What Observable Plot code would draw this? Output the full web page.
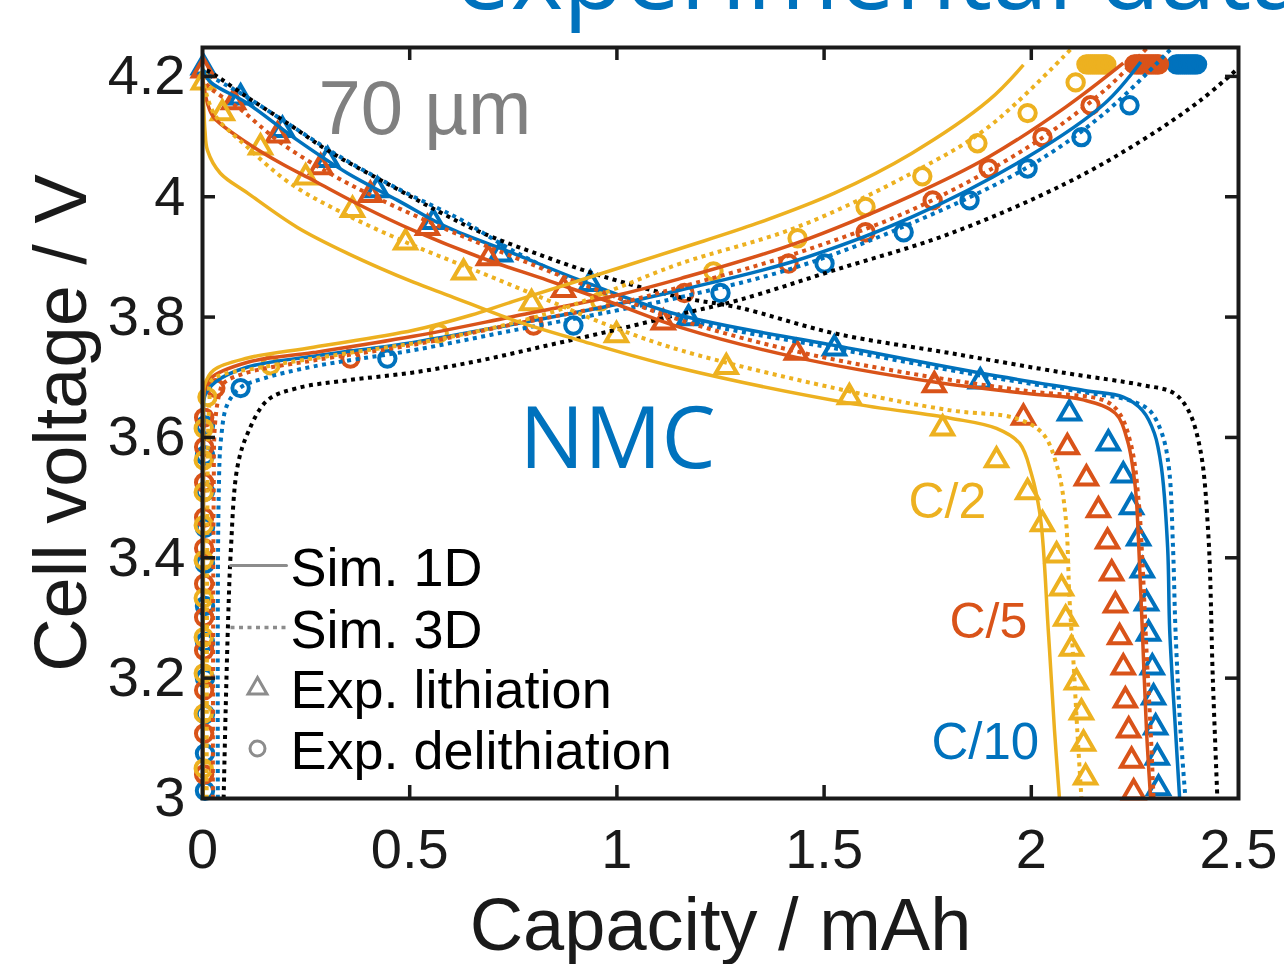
<!DOCTYPE html>
<html><head><meta charset="utf-8">
<script src="https://cdn.jsdelivr.net/npm/d3@7"></script>
<script src="https://cdn.jsdelivr.net/npm/@observablehq/plot@0.6"></script>
<style>html,body{margin:0;padding:0;background:#fff;} #chart{width:1284px;height:964px;overflow:hidden;}</style>
</head><body><div id="chart"></div>
<script>
// ---------------- DATA (capacity mAh, cell voltage V) ----------------
const xTicks = [0, 0.5, 1, 1.5, 2, 2.5];
const yTicks = [3, 3.2, 3.4, 3.6, 3.8, 4, 4.2];
const rates = ["C/10", "C/5", "C/2"];

// black dotted reference curves (no legend entry)
const ref_lith = [[0.01,4.21],[0.024,4.205],[0.109,4.165],[0.212,4.119],[0.302,4.077],[0.461,4.016],[0.574,3.974],[0.671,3.941],[0.816,3.903],[0.960,3.869],[1.153,3.833],[1.293,3.816],[1.525,3.773],[1.805,3.740],[2.083,3.707],[2.268,3.687],[2.343,3.674],[2.379,3.645],[2.408,3.579],[2.427,3.441],[2.438,3.2],[2.449,3.0]];
const ref_delith = [[0.051,3.0],[0.056,3.15],[0.062,3.3],[0.068,3.407],[0.084,3.55],[0.109,3.607],[0.157,3.662],[0.229,3.682],[0.350,3.695],[0.509,3.708],[0.671,3.728],[0.833,3.753],[0.992,3.778],[1.153,3.805],[1.293,3.828],[1.525,3.878],[1.805,3.939],[2.083,4.022],[2.268,4.094],[2.408,4.160],[2.5,4.214]];

// C/10
const c10_sim1D_lith = [[0,4.21],[0.02,4.19],[0.109,4.155],[0.229,4.094],[0.350,4.039],[0.471,3.994],[0.591,3.949],[0.750,3.906],[0.912,3.861],[1.153,3.803],[1.525,3.753],[1.877,3.707],[2.128,3.678],[2.222,3.667],[2.268,3.645],[2.297,3.607],[2.314,3.550],[2.329,3.417],[2.334,3.279],[2.348,3.113],[2.358,3.0]];
const c10_sim3D_lith = [[0,4.21],[0.02,4.20],[0.092,4.172],[0.212,4.119],[0.333,4.066],[0.478,4.011],[0.623,3.962],[0.750,3.91],[0.912,3.857],[1.153,3.798],[1.525,3.748],[1.877,3.703],[2.128,3.675],[2.235,3.662],[2.285,3.645],[2.315,3.607],[2.332,3.550],[2.342,3.417],[2.348,3.279],[2.360,3.113],[2.372,3.0]];
const c10_sim1D_delith = [[0.0015,3.0],[0.002,3.4],[0.003,3.62],[0.006,3.67],[0.031,3.692],[0.109,3.717],[0.268,3.735],[0.509,3.758],[0.750,3.788],[0.992,3.820],[1.153,3.845],[1.433,3.894],[1.711,3.966],[1.991,4.066],[2.177,4.155],[2.264,4.224]];
const c10_sim3D_delith = [[0.037,3.0],[0.039,3.5],[0.045,3.6],[0.06,3.655],[0.092,3.683],[0.147,3.698],[0.268,3.718],[0.509,3.745],[0.750,3.778],[0.992,3.810],[1.153,3.833],[1.433,3.883],[1.711,3.956],[1.991,4.049],[2.177,4.139],[2.343,4.25]];
const c10_exp_lith = [[0.002,4.215],[0.092,4.165],[0.193,4.111],[0.302,4.061],[0.422,4.011],[0.557,3.958],[0.719,3.904],[0.936,3.855],[1.173,3.798],[1.525,3.748],[1.877,3.693],[2.092,3.640],[2.186,3.590],[2.222,3.537],[2.242,3.484],[2.259,3.432],[2.268,3.379],[2.278,3.324],[2.283,3.274],[2.292,3.218],[2.295,3.168],[2.300,3.118],[2.304,3.068],[2.307,3.017]];
const c10_exp_delith = [[0.006,3.013],[0.006,3.075],[0.006,3.14],[0.006,3.20],[0.006,3.26],[0.006,3.32],[0.006,3.39],[0.006,3.45],[0.006,3.51],[0.006,3.57],[0.006,3.62],[0.092,3.682],[0.446,3.731],[0.895,3.786],[1.250,3.840],[1.501,3.889],[1.692,3.941],[1.851,3.994],[1.991,4.047],[2.121,4.099],[2.237,4.152],[2.350,4.22],[2.355,4.22],[2.360,4.22],[2.365,4.22],[2.370,4.22],[2.375,4.22],[2.380,4.22],[2.385,4.22],[2.390,4.22],[2.395,4.22],[2.400,4.22]];

// C/5
const c5_sim1D_lith = [[0,4.20],[0.012,4.155],[0.027,4.132],[0.109,4.089],[0.188,4.056],[0.268,4.027],[0.389,3.983],[0.509,3.944],[0.671,3.899],[0.833,3.861],[0.992,3.823],[1.153,3.783],[1.433,3.733],[1.766,3.692],[1.991,3.673],[2.128,3.662],[2.203,3.640],[2.232,3.595],[2.251,3.517],[2.259,3.424],[2.268,3.279],[2.278,3.113],[2.288,3.0]];
const c5_sim3D_lith = [[0,4.20],[0.012,4.185],[0.092,4.145],[0.188,4.09],[0.309,4.038],[0.430,3.995],[0.591,3.945],[0.750,3.900],[0.912,3.856],[1.153,3.795],[1.433,3.743],[1.711,3.706],[1.991,3.677],[2.177,3.661],[2.213,3.640],[2.242,3.584],[2.259,3.495],[2.268,3.396],[2.278,3.246],[2.288,3.113],[2.295,3.0]];
const c5_sim1D_delith = [[0.0015,3.0],[0.002,3.4],[0.0025,3.62],[0.004,3.675],[0.019,3.698],[0.109,3.725],[0.268,3.741],[0.509,3.768],[0.750,3.801],[0.992,3.835],[1.153,3.864],[1.433,3.923],[1.711,4.002],[1.897,4.066],[2.083,4.149],[2.222,4.222]];
const c5_sim3D_delith = [[0.025,3.0],[0.027,3.5],[0.03,3.62],[0.04,3.67],[0.051,3.69],[0.109,3.708],[0.268,3.728],[0.509,3.754],[0.750,3.788],[0.992,3.821],[1.153,3.850],[1.433,3.906],[1.711,3.978],[1.991,4.082],[2.177,4.177],[2.283,4.25]];
const c5_exp_lith = [[0.002,4.210],[0.075,4.157],[0.181,4.102],[0.285,4.049],[0.405,4.003],[0.543,3.948],[0.690,3.898],[0.871,3.845],[1.112,3.791],[1.433,3.741],[1.766,3.687],[1.981,3.633],[2.087,3.584],[2.133,3.532],[2.162,3.479],[2.184,3.427],[2.194,3.374],[2.203,3.321],[2.213,3.268],[2.222,3.218],[2.227,3.163],[2.235,3.113],[2.242,3.063],[2.247,3.010]];
const c5_exp_delith = [[0.004,3.040],[0.004,3.108],[0.004,3.180],[0.004,3.246],[0.004,3.301],[0.004,3.357],[0.004,3.416],[0.004,3.467],[0.004,3.525],[0.004,3.584],[0.004,3.633],[0.031,3.682],[0.357,3.731],[0.799,3.786],[1.163,3.840],[1.414,3.889],[1.600,3.941],[1.762,3.994],[1.897,4.047],[2.027,4.099],[2.143,4.152],[2.249,4.22],[2.254,4.22],[2.259,4.22],[2.264,4.22],[2.269,4.22],[2.274,4.22],[2.279,4.22],[2.284,4.22],[2.289,4.22],[2.294,4.22],[2.299,4.22],[2.304,4.22],[2.308,4.22]];

// C/2
const c2_sim1D_lith = [[0,4.20],[0.003,4.15],[0.006,4.11],[0.012,4.077],[0.043,4.039],[0.109,4.006],[0.229,3.949],[0.350,3.906],[0.509,3.858],[0.598,3.835],[0.750,3.795],[0.912,3.761],[1.153,3.715],[1.561,3.657],[1.805,3.632],[1.916,3.615],[1.972,3.590],[2.000,3.540],[2.022,3.467],[2.041,3.279],[2.056,3.113],[2.068,3.0]];
const c2_sim3D_lith = [[0,4.20],[0.027,4.139],[0.109,4.082],[0.212,4.022],[0.350,3.969],[0.509,3.919],[0.671,3.874],[0.833,3.828],[0.992,3.783],[1.153,3.745],[1.525,3.682],[1.805,3.645],[1.962,3.632],[2.027,3.607],[2.063,3.550],[2.083,3.467],[2.092,3.334],[2.102,3.224],[2.111,3.113],[2.121,3.0]];
const c2_sim1D_delith = [[0.0015,3.0],[0.002,3.5],[0.0025,3.662],[0.005,3.687],[0.027,3.712],[0.109,3.732],[0.268,3.750],[0.509,3.778],[0.647,3.803],[0.750,3.826],[1.153,3.914],[1.339,3.956],[1.525,4.006],[1.711,4.072],[1.897,4.160],[1.981,4.219]];
const c2_sim3D_delith = [[0.010,3.0],[0.012,3.5],[0.014,3.62],[0.017,3.66],[0.022,3.695],[0.147,3.717],[0.350,3.740],[0.591,3.766],[0.833,3.806],[0.992,3.846],[1.153,3.889],[1.433,3.949],[1.711,4.039],[1.897,4.116],[2.102,4.25]];
const c2_exp_lith = [[0.002,4.190],[0.048,4.139],[0.140,4.082],[0.249,4.032],[0.362,3.978],[0.490,3.924],[0.630,3.874],[0.794,3.823],[0.999,3.770],[1.264,3.717],[1.561,3.667],[1.786,3.615],[1.916,3.562],[1.991,3.509],[2.027,3.456],[2.061,3.404],[2.073,3.349],[2.083,3.299],[2.097,3.249],[2.109,3.193],[2.121,3.143],[2.126,3.091],[2.131,3.035]];
const c2_exp_delith = [[0.003,3.050],[0.003,3.141],[0.003,3.208],[0.003,3.268],[0.003,3.333],[0.003,3.396],[0.003,3.454],[0.003,3.509],[0.003,3.562],[0.003,3.615],[0.012,3.667],[0.164,3.720],[0.570,3.773],[0.960,3.826],[1.233,3.876],[1.436,3.931],[1.600,3.983],[1.737,4.034],[1.870,4.089],[1.991,4.139],[2.107,4.190],[2.133,4.22],[2.138,4.22],[2.143,4.22],[2.148,4.22],[2.153,4.22],[2.158,4.22],[2.163,4.22],[2.168,4.22],[2.173,4.22],[2.178,4.22],[2.181,4.22]];

// legend / annotation texts
const legendLabels = ["Sim. 1D", "Sim. 3D", "Exp. lithiation", "Exp. delithiation"];
const rateLabels = ["C/10", "C/5", "C/2"];

// ---------------- STYLE ----------------
const W = 1284, H = 964, mL = 202, mR = 46, mT = 47, mB = 166;
const innerW = W - mL - mR, innerH = H - mT - mB;
const BLUE = "#0072BD", ORANGE = "#D95319", YELLOW = "#EDB120", GRAY = "#8c8c8c", AX = "#1a1a1a";
const colorOf = {"C/10": BLUE, "C/5": ORANGE, "C/2": YELLOW};
const SANS = "Liberation Sans, Arial, Helvetica, sans-serif";
const OPEN = "Open Sans, Liberation Sans, sans-serif";
const DOT = "4,4.5";

const rows = (arr) => arr.map(([x, y]) => ({x, y}));
const groups = {
  "C/10": {l1: c10_sim1D_lith, l3: c10_sim3D_lith, d1: c10_sim1D_delith, d3: c10_sim3D_delith, el: c10_exp_lith, ed: c10_exp_delith},
  "C/5":  {l1: c5_sim1D_lith,  l3: c5_sim3D_lith,  d1: c5_sim1D_delith,  d3: c5_sim3D_delith,  el: c5_exp_lith,  ed: c5_exp_delith},
  "C/2":  {l1: c2_sim1D_lith,  l3: c2_sim3D_lith,  d1: c2_sim1D_delith,  d3: c2_sim3D_delith,  el: c2_exp_lith,  ed: c2_exp_delith}
};

const marks = [];
// experimental markers
for (const r of rates) {
  const g = groups[r], c = colorOf[r];
  marks.push(Plot.dot(rows(g.ed), {x: "x", y: "y", r: 8.2, stroke: c, strokeWidth: 4, fill: "none"}));
  marks.push(Plot.dot(rows(g.el), {x: "x", y: "y", symbol: "triangle", r: 7.8, stroke: c, strokeWidth: 4, fill: "none", strokeLinejoin: "miter"}));
}
// black reference curves
const lineOpts = {x: "x", y: "y", curve: "catmull-rom", clip: true, strokeLinecap: "butt", strokeLinejoin: "round"};
marks.push(Plot.line(rows(ref_lith), {...lineOpts, stroke: "black", strokeWidth: 4, strokeDasharray: DOT}));
marks.push(Plot.line(rows(ref_delith), {...lineOpts, stroke: "black", strokeWidth: 4, strokeDasharray: DOT}));
// simulations
for (const r of rates) {
  const g = groups[r], c = colorOf[r];
  marks.push(Plot.line(rows(g.l1), {...lineOpts, stroke: c, strokeWidth: 3.5}));
  marks.push(Plot.line(rows(g.d1), {...lineOpts, stroke: c, strokeWidth: 3.5}));
  marks.push(Plot.line(rows(g.l3), {...lineOpts, stroke: c, strokeWidth: 4, strokeDasharray: DOT}));
  marks.push(Plot.line(rows(g.d3), {...lineOpts, stroke: c, strokeWidth: 4, strokeDasharray: DOT}));
}

// frame, inward ticks, axes
const xInner = xTicks.slice(1, -1), yInner = yTicks.slice(1);
marks.push(
  Plot.tickX(xInner, {x: d => d, insetTop: innerH - 13, stroke: AX, strokeWidth: 3.5}),
  Plot.tickX(xInner, {x: d => d, insetBottom: innerH - 13, stroke: AX, strokeWidth: 3.5}),
  Plot.tickY(yInner, {y: d => d, insetRight: innerW - 13, stroke: AX, strokeWidth: 3.5}),
  Plot.tickY(yInner, {y: d => d, insetLeft: innerW - 13, stroke: AX, strokeWidth: 3.5}),
  Plot.frame({stroke: AX, strokeWidth: 4}),
  Plot.axisX(xTicks, {anchor: "bottom", tickSize: 0, tickPadding: 30, fontSize: 56, tickFormat: d => String(d), label: null, fill: AX}),
  Plot.axisY(yTicks, {anchor: "left", tickSize: 0, tickPadding: 17, fontSize: 56, tickFormat: d => String(d), label: null, fill: AX}),
  Plot.text(["Capacity / mAh"], {text: d => d, frameAnchor: "bottom", dy: 151, textAnchor: "middle", lineAnchor: "bottom", fontSize: 74, fill: AX}),
  Plot.text(["Cell voltage / V"], {text: d => d, frameAnchor: "left", dx: -117, rotate: -90, textAnchor: "middle", lineAnchor: "bottom", fontSize: 74, fill: AX})
);

// annotations
marks.push(
  Plot.text(["experimental data"], {text: d => d, frameAnchor: "top-left", dx: 252, dy: -39, textAnchor: "start", lineAnchor: "bottom", fontSize: 100, fontFamily: OPEN, fill: BLUE}),
  Plot.text(["70 µm"], {text: d => d, frameAnchor: "top-left", dx: 116, dy: 86, textAnchor: "start", lineAnchor: "bottom", fontSize: 76, fill: "#808080"}),
  Plot.text(["NMC"], {text: d => d, frameAnchor: "top-left", dx: 317, dy: 420, textAnchor: "start", lineAnchor: "bottom", fontSize: 86, fontFamily: OPEN, fill: BLUE}),
  Plot.text([rateLabels[2]], {text: d => d, frameAnchor: "top-left", dx: 706, dy: 470, textAnchor: "start", lineAnchor: "bottom", fontSize: 50, fill: YELLOW}),
  Plot.text([rateLabels[1]], {text: d => d, frameAnchor: "top-left", dx: 747, dy: 590, textAnchor: "start", lineAnchor: "bottom", fontSize: 50, fill: ORANGE}),
  Plot.text([rateLabels[0]], {text: d => d, frameAnchor: "top-left", dx: 729, dy: 711, textAnchor: "start", lineAnchor: "bottom", fontSize: 51, fill: BLUE})
);

// legend (gray samples + labels)
const lineShape = {draw(context, l) { context.moveTo(0, 0); context.lineTo(0, -l); }};
const legendDy = [-213, -151, -91, -30];
marks.push(
  Plot.vector([0], {x: null, y: null, frameAnchor: "bottom-left", dx: 28, dy: -233, length: 56, rotate: 90, anchor: "start", shape: lineShape, stroke: GRAY, strokeWidth: 3}),
  Plot.vector([0], {x: null, y: null, frameAnchor: "bottom-left", dx: 28, dy: -171, length: 56, rotate: 90, anchor: "start", shape: lineShape, stroke: GRAY, strokeWidth: 3.5, strokeDasharray: DOT, strokeLinecap: "butt"}),
  Plot.dot([0], {x: null, y: null, frameAnchor: "bottom-left", dx: 55, dy: -110, symbol: "triangle", r: 7, stroke: GRAY, strokeWidth: 3, fill: "none"}),
  Plot.dot([0], {x: null, y: null, frameAnchor: "bottom-left", dx: 55, dy: -50, r: 7.5, stroke: GRAY, strokeWidth: 3, fill: "none"})
);
legendLabels.forEach((lab, i) => {
  marks.push(Plot.text([lab], {text: d => d, frameAnchor: "bottom-left", dx: 88, dy: legendDy[i], textAnchor: "start", lineAnchor: "bottom", fontSize: 54, fill: "black"}));
});

const chart = Plot.plot({
  width: W, height: H,
  marginLeft: mL, marginRight: mR, marginTop: mT, marginBottom: mB,
  x: {domain: [0, 2.5]},
  y: {domain: [3, 4.248]},
  style: {fontFamily: SANS, background: "white", color: AX},
  marks
});
document.getElementById("chart").appendChild(chart);
</script>
</body></html>
